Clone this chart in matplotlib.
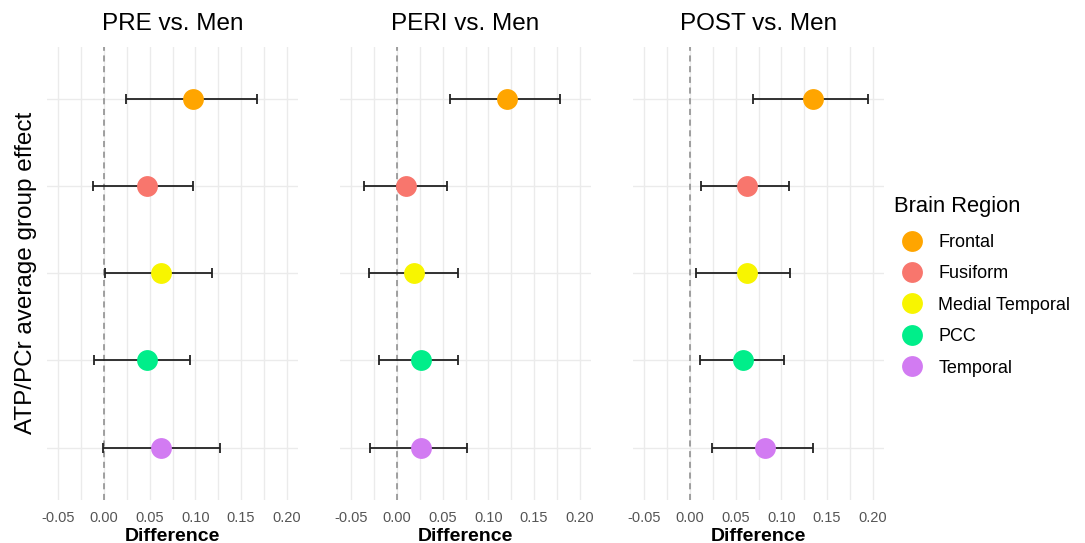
import numpy as np
import matplotlib
matplotlib.use("Agg")
import matplotlib.pyplot as plt
from matplotlib.lines import Line2D

plt.rcParams['font.family'] = ['Liberation Sans', 'DejaVu Sans']

# Datos
regiones = ["Frontal", "Fusiform", "Medial Temporal", "PCC", "Temporal"]
colores = ["#FFA500", "#F8766D", "#F8F500", "#00EE8A", "#D27BF2"]
paneles = ["PRE vs. Men", "PERI vs. Men", "POST vs. Men"]

pre_dif = [0.098, 0.047, 0.062, 0.047, 0.062]
pre_inf = [0.024, -0.012, 0.001, -0.011, -0.001]
pre_sup = [0.168, 0.098, 0.118, 0.094, 0.127]

peri_dif = [0.121, 0.010, 0.019, 0.026, 0.026]
peri_inf = [0.058, -0.036, -0.031, -0.020, -0.030]
peri_sup = [0.179, 0.055, 0.067, 0.067, 0.077]

post_dif = [0.135, 0.062, 0.062, 0.058, 0.082]
post_inf = [0.069, 0.012, 0.007, 0.011, 0.024]
post_sup = [0.195, 0.108, 0.109, 0.103, 0.135]

datos = [(pre_dif, pre_inf, pre_sup),
         (peri_dif, peri_inf, peri_sup),
         (post_dif, post_inf, post_sup)]

fig = plt.figure(figsize=(10.85, 5.43), dpi=100)
izquierdas = [47, 340, 633]
posY = np.arange(len(regiones), 0, -1)

for k in range(3):
    ax = fig.add_axes([izquierdas[k] / 1085, 43 / 543, 251 / 1085, 453.4 / 543])
    dif, inf, sup = datos[k]
    ax.axvline(0, color="#888888", linestyle=(0, (4, 3)), linewidth=1.1, zorder=1)
    for i in range(len(regiones)):
        ax.errorbar(dif[i], posY[i], xerr=[[dif[i] - inf[i]], [sup[i] - dif[i]]],
                    fmt="none", ecolor="#222222", elinewidth=1.3, capsize=3.3,
                    capthick=1.3, zorder=2)
        ax.plot(dif[i], posY[i], "o", color=colores[i], markersize=15,
                markeredgewidth=0, zorder=3)
    ax.set_xlim(-0.0625, 0.2125)
    ax.set_ylim(0.4, 5.6)
    ax.set_xticks([-0.05, 0.0, 0.05, 0.10, 0.15, 0.20])
    ax.set_xticklabels(["-0.05", "0.00", "0.05", "0.10", "0.15", "0.20"])
    ax.set_xticks(np.arange(-0.025, 0.2, 0.05), minor=True)
    ax.set_yticks(posY)
    ax.set_yticklabels([])
    ax.grid(True, which="both", color="#EBEBEB", linewidth=1.0, zorder=0)
    ax.set_axisbelow(True)
    ax.tick_params(axis="both", which="both", length=0)
    ax.tick_params(axis="x", labelsize=10.5, labelcolor="#555555", pad=8)
    for s in ax.spines.values():
        s.set_visible(False)
    ax.set_title(paneles[k], fontsize=17.5, pad=12)
    ax.set_xlabel("Difference", fontsize=14, fontweight="bold", labelpad=2)
    if k == 0:
        ax.set_ylabel("ATP/PCr average group effect", fontsize=17.5, labelpad=4)

manejadores = [Line2D([], [], marker="o", linestyle="none", color=c,
                      markersize=15, markeredgewidth=0) for c in colores]
leg = fig.legend(manejadores, regiones, title="Brain Region",
                 loc="upper left", bbox_to_anchor=(878 / 1085, 1 - 180 / 543),
                 frameon=False, fontsize=13, title_fontsize=15.8,
                 labelspacing=0.8, handletextpad=0.45, alignment="left")
leg._legend_box.sep = 12

plt.savefig("out.png", dpi=100)
